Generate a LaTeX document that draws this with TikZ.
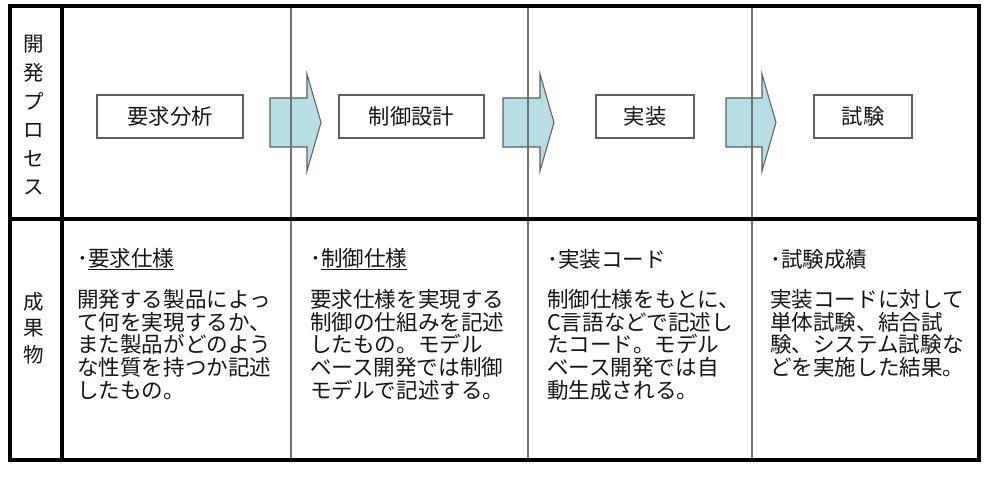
\documentclass[tikz,border=0pt]{standalone}
\usepackage{fontspec}
\newfontfamily\jpfont{Noto Sans CJK JP}
\definecolor{celesteFlecha}{RGB}{183,222,228}
\definecolor{grisLinea}{RGB}{115,115,115}
\definecolor{grisCaja}{RGB}{95,95,95}
\definecolor{textoDark}{RGB}{20,20,20}
\usetikzlibrary{positioning}

\begin{document}
\begin{tikzpicture}[x=0.03cm,y=-0.03cm,
        marco/.style={draw=black,line width=2.6pt},
        divisor/.style={draw=grisLinea,line width=1.3pt},
        flecha/.style={draw=grisCaja,fill=celesteFlecha,line width=0.9pt,line join=miter},
        proc/.style={draw=grisCaja,line width=1.2pt,fill=white,text=textoDark,
                     font=\jpfont\fontsize{18.2}{20}\selectfont,
                     minimum height=1.29cm,inner sep=0pt},
        cab/.style={align=center,text=textoDark,inner sep=0pt},
        tit/.style={anchor=west,inner sep=0pt,text=textoDark,
                    font=\jpfont\fontsize{18.4}{19.4}\selectfont},
        cuerpo/.style={anchor=north west,align=left,inner sep=0pt,text=textoDark,
                       font=\jpfont\fontsize{18.4}{19.4}\selectfont}]
  \useasboundingbox (0,0) rectangle (987,480);
  % flechas entre procesos
  \draw[flecha] (270,98) -- (307,98) -- (307,74) -- (321,122.5)
    -- (307,171) -- (307,147) -- (270,147) -- cycle;
  \draw[flecha] (503,98) -- (540,98) -- (540,74) -- (554,122.5)
    -- (540,171) -- (540,147) -- (503,147) -- cycle;
  \draw[flecha] (726,98) -- (762,98) -- (762,74) -- (776,122.5)
    -- (762,171) -- (762,147) -- (726,147) -- cycle;
  % tabla
  \draw[divisor] (291,6) -- (291,460);
  \draw[divisor] (528,6) -- (528,460);
  \draw[divisor] (752,6) -- (752,460);
  \draw[marco] (62,6) -- (62,460);
  \draw[marco] (10,219) -- (979,219);
  \draw[marco] (10,6) rectangle (979,460);
  % encabezados
  \node[cab,font=\jpfont\fontsize{17.5}{24.4}\selectfont] (hProc) at (34,115.5)
    {開\\発\\プ\\ロ\\セ\\ス};
  \node[cab,font=\jpfont\fontsize{17.5}{22.6}\selectfont] (hRes) at (34,328)
    {成\\果\\物};
  % procesos
  \node[proc,minimum width=4.38cm] (req)  at (170,116.5)   {要求分析};
  \node[proc,minimum width=4.35cm] (ctl)  at (411.5,116.5) {制御設計};
  \node[proc,minimum width=2.94cm] (impl) at (645,116.5)   {実装};
  \node[proc,minimum width=2.94cm] (test) at (863,116.5)   {試験};
  % resultados
  \node[tit] (reqT)  at (77,259)  {･\underline{要求仕様}};
  \node[tit] (ctlT)  at (310,259) {･\underline{制御仕様}};
  \node[tit] (implT) at (547,259) {･実装コード};
  \node[tit] (testT) at (770,259) {･試験成績};
  \node[cuerpo] (reqB) at (77,289)
    {開発する製品によっ\\て何を実現するか、\\また製品がどのよう\\な性質を持つか記述\\したもの。};
  \node[cuerpo] (ctlB) at (310,289)
    {要求仕様を実現する\\制御の仕組みを記述\\したもの。モデル\\ベース開発では制御\\モデルで記述する。};
  \node[cuerpo] (implB) at (547,289)
    {制御仕様をもとに、\\C言語などで記述し\\たコード。モデル\\ベース開発では自\\動生成される。};
  \node[cuerpo] (testB) at (770,289)
    {実装コードに対して\\単体試験、結合試\\験、システム試験な\\どを実施した結果。};
\end{tikzpicture}
\end{document}
